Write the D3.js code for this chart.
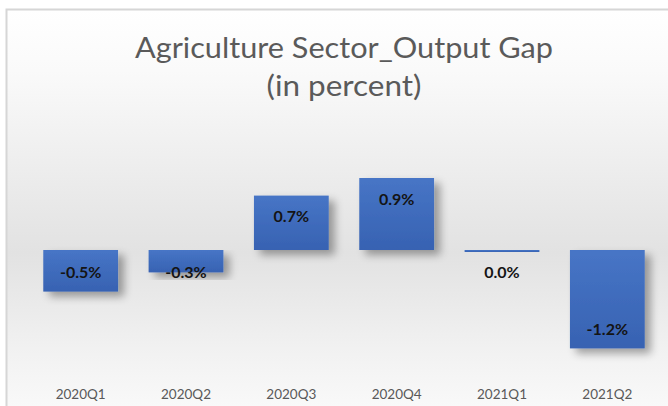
<!DOCTYPE html>
<html>
<head>
<meta charset="utf-8">
<script src="https://cdn.jsdelivr.net/npm/d3@7"></script>
<style>
  html, body { margin: 0; padding: 0; background: #fff; }
  svg { display: block; }
</style>
</head>
<body>
<div id="chart"></div>
<script>
var quarters = ["2020Q1", "2020Q2", "2020Q3", "2020Q4", "2021Q1", "2021Q2"];
var gapValues = [-0.52, -0.28, 0.68, 0.9, -0.02, -1.23];
var gapLabels = ["-0.5%", "-0.3%", "0.7%", "0.9%", "0.0%", "-1.2%"];
var titleLines = ["Agriculture Sector_Output Gap", "(in percent)"];

var width = 668, height = 406;

var svg = d3.select("#chart").append("svg")
    .attr("width", width)
    .attr("height", height);

var defs = svg.append("defs");

// chart area background: white top, light grey middle, whitish bottom
var bg = defs.append("linearGradient")
    .attr("id", "bgGrad")
    .attr("x1", 0).attr("y1", 0).attr("x2", 0).attr("y2", 1);
bg.append("stop").attr("offset", "0%").attr("stop-color", "#ffffff");
bg.append("stop").attr("offset", "15%").attr("stop-color", "#fafafa");
bg.append("stop").attr("offset", "60%").attr("stop-color", "#e2e2e2");
bg.append("stop").attr("offset", "85%").attr("stop-color", "#f2f2f2");
bg.append("stop").attr("offset", "100%").attr("stop-color", "#fafafa");

var barGrad = defs.append("linearGradient")
    .attr("id", "barGrad")
    .attr("x1", 0).attr("y1", 0).attr("x2", 0).attr("y2", 1);
barGrad.append("stop").attr("offset", "0%").attr("stop-color", "#4775c6");
barGrad.append("stop").attr("offset", "100%").attr("stop-color", "#3762b2");

var shadow = defs.append("filter")
    .attr("id", "shadow")
    .attr("x", "-20%").attr("y", "-20%")
    .attr("width", "150%").attr("height", "150%");
shadow.append("feGaussianBlur").attr("in", "SourceAlpha").attr("stdDeviation", 4);
shadow.append("feOffset").attr("dx", 6).attr("dy", 5).attr("result", "blur");
shadow.append("feComponentTransfer").append("feFuncA").attr("type", "linear").attr("slope", 0.35);
var merge = shadow.append("feMerge");
merge.append("feMergeNode");
merge.append("feMergeNode").attr("in", "SourceGraphic");

svg.append("rect")
    .attr("x", 6.5).attr("y", 9.5)
    .attr("width", width).attr("height", height)
    .attr("fill", "url(#bgGrad)")
    .attr("stroke", "#d6d6d6")
    .attr("stroke-width", 2);

// title
svg.selectAll("text.title")
    .data(titleLines)
    .enter()
    .append("text")
    .attr("class", "title")
    .attr("x", 344)
    .attr("y", function(d, i){ return 58 + i * 38; })
    .attr("text-anchor", "middle")
    .attr("font-family", "Lato, 'Open Sans', sans-serif")
    .attr("font-size", 29)
    .attr("fill", "#5a5a5a")
    .attr("textLength", function(d, i){ return i == 0 ? 418 : 155; })
    .attr("lengthAdjust", "spacingAndGlyphs")
    .text(function(d){ return d; });

var x = d3.scaleBand()
    .domain(quarters)
    .range([28, 660])
    .paddingInner(0.29)
    .paddingOuter(0.145);

var y = d3.scaleLinear()
    .domain([-1.3, 1.0])
    .range([354, 170]);

var data = quarters.map(function(q, i){
    return { q: q, v: gapValues[i], label: gapLabels[i] };
});

svg.append("g")
    .selectAll("rect")
    .data(data)
    .enter()
    .append("rect")
    .attr("x", function(d){ return x(d.q); })
    .attr("y", function(d){ return y(Math.max(0, d.v)); })
    .attr("width", x.bandwidth())
    .attr("height", function(d){ return Math.max(2, Math.abs(y(d.v) - y(0))); })
    .attr("fill", "url(#barGrad)")
    .attr("filter", "url(#shadow)");

// data labels, inside end
svg.append("g")
    .selectAll("text")
    .data(data)
    .enter()
    .append("text")
    .attr("x", function(d){ return x(d.q) + x.bandwidth() / 2; })
    .attr("y", function(d){
        if (d.v >= 0) return y(d.v) + 21;
        return Math.max(y(d.v) - 19, y(0) + 22);
    })
    .attr("dy", "0.35em")
    .attr("text-anchor", "middle")
    .attr("font-family", "Lato, 'Open Sans', sans-serif")
    .attr("font-weight", "bold")
    .attr("font-size", 16)
    .attr("fill", "#141414")
    .text(function(d){ return d.label; });

// category axis (no line), labels at bottom
var xAxis = svg.append("g")
    .attr("transform", "translate(0,383)")
    .call(d3.axisBottom(x).tickSize(0).tickPadding(6));
xAxis.select(".domain").remove();
xAxis.selectAll("text")
    .attr("font-family", "Lato, 'Open Sans', sans-serif")
    .attr("font-size", 13.5)
    .attr("fill", "#595959");
</script>
</body>
</html>
